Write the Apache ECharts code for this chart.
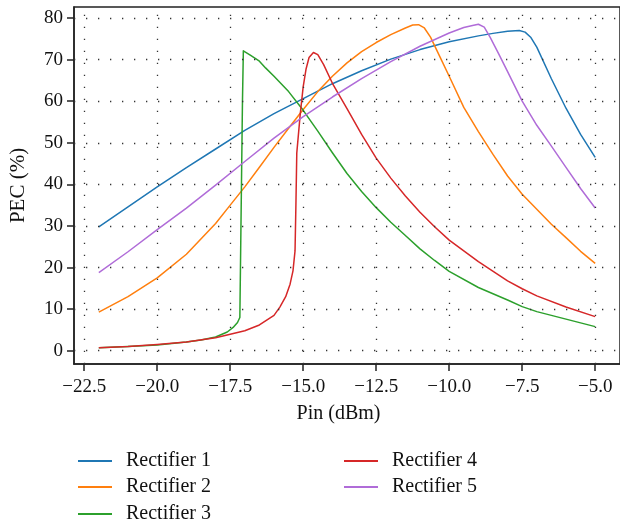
<!DOCTYPE html>
<html><head><meta charset="utf-8">
<script src="https://cdn.jsdelivr.net/npm/echarts@6/dist/echarts.min.js"></script>
<style>html,body{margin:0;padding:0;background:#fff}#c{width:620px;height:524px}</style>
</head><body><div id="c"></div>
<script>
const seriesNames = ['Rectifier 1','Rectifier 2','Rectifier 3','Rectifier 4','Rectifier 5'];
const colors = ['#1f77b4','#ff7f0e','#2ca02c','#d62728','#b06cd8'];
const xTicks = [-22.5,-20,-17.5,-15,-12.5,-10,-7.5,-5];
const yTicks = [0,10,20,30,40,50,60,70,80];

const r1X = [-22,-21,-20,-19,-18,-17,-16,-15,-14,-13,-12,-11,-10,-9,-8.5,-8,-7.6,-7.4,-7.2,-7,-6.5,-6,-5.5,-5];
const r1Y = [29.8,34.6,39.4,44.0,48.5,53.0,57.0,60.6,64.2,67.3,70.1,72.4,74.3,75.7,76.3,76.8,77.0,76.6,75.3,73.0,65.4,58.3,52.0,46.5];

const r2X = [-22,-21,-20,-19,-18,-17.5,-17,-16.5,-16,-15.5,-15,-14.5,-14,-13.5,-13,-12.5,-12,-11.5,-11.25,-11.05,-10.85,-10.64,-10.3,-10,-9.5,-9,-8.5,-8,-7.5,-7,-6.5,-6,-5.5,-5];
const r2Y = [9.3,13.0,17.5,23.2,30.6,35.0,39.4,44.1,48.9,53.5,58.0,62.3,66.0,69.2,71.9,74.1,76.0,77.6,78.3,78.4,77.6,75.4,70.4,66.0,58.5,52.7,47.2,42.0,37.6,34.0,30.4,27.2,23.9,21.0];

const r3X = [-22,-21,-20,-19,-18.5,-18,-17.6,-17.4,-17.25,-17.17,-17.08,-17.05,-16.8,-16.5,-16.29,-16,-15.5,-15,-14.5,-14,-13.5,-13,-12.5,-12,-11.5,-11,-10.5,-10,-9,-8,-7.5,-7,-6,-5];
const r3Y = [0.7,1.0,1.4,2.1,2.6,3.3,4.5,5.6,6.8,8.0,60.0,72.1,71.0,69.6,68.0,66.0,62.3,57.8,52.8,47.6,42.6,38.3,34.4,30.9,27.7,24.5,21.7,19.1,15.2,12.2,10.6,9.4,7.6,5.8];

const r4X = [-22,-21,-20,-19,-18,-17,-16.5,-16,-15.8,-15.6,-15.45,-15.35,-15.28,-15.25,-15.22,-15.1,-15.0,-14.9,-14.8,-14.65,-14.5,-14.3,-14,-13.5,-13,-12.5,-12,-11.5,-11,-10.5,-10,-9,-8,-7.5,-7,-6,-5];
const r4Y = [0.7,1.0,1.5,2.1,3.1,4.8,6.2,8.5,10.5,13.0,16.0,19.2,24.0,35.0,47.5,57.0,63.5,67.8,70.5,71.7,71.2,68.8,64.3,58.2,52.0,46.3,41.5,37.2,33.3,29.8,26.6,21.4,16.8,14.9,13.2,10.5,8.2];

const r5X = [-22,-21,-20,-19,-18,-17,-16,-15,-14,-13,-12,-11,-10,-9.5,-9.2,-9.0,-8.8,-8.6,-8.3,-8,-7.5,-7,-6.5,-6,-5.5,-5];
const r5Y = [18.8,23.8,29.1,34.3,39.8,45.5,51.1,56.3,61.0,65.4,69.5,73.2,76.4,77.7,78.2,78.5,77.8,75.4,71.3,67.1,60.0,54.2,49.2,44.1,39.0,34.3];

const xs = [r1X,r2X,r3X,r4X,r5X];
const ys = [r1Y,r2Y,r3Y,r4Y,r5Y];

const FONT = '"Liberation Serif", "DejaVu Serif", serif';
const fmtX = v => (v < 0 ? '\u2212' : '') + Math.abs(v).toFixed(1);

const gridLineStyle = {color:'#333', width:1.3, type:[1.3,10.7]};
const gridMarks = xTicks.map(v => ({xAxis: v})).concat(yTicks.map(v => ({yAxis: v})));

const series = seriesNames.map((name,i) => ({
  name, type:'line', showSymbol:false, symbol:'none', smooth:false,
  data: xs[i].map((x,k) => [x, ys[i][k]]),
  lineStyle:{color:colors[i], width:1.5, join:'round'},
  itemStyle:{color:colors[i]},
  z: 3,
  animation:false
}));
series.push({
  type:'line', data:[], silent:true, z:1, animation:false,
  markLine:{silent:true, symbol:'none', label:{show:false}, lineStyle:gridLineStyle, data:gridMarks, animation:false}
});

const legendPos = [[78,451],[78,477],[78,504],[344,451],[344,477]];
const legends = seriesNames.map((n,i) => ({
  data:[n], left:legendPos[i][0], top:legendPos[i][1], padding:0,
  itemWidth:34, itemHeight:2, icon:'rect',
  textStyle:{fontFamily:FONT, fontSize:20, lineHeight:20, color:'#111', padding:[0,0,0,9]}
}));

const chart = echarts.init(document.getElementById('c'), null, {renderer:'canvas'});
chart.setOption({
  animation:false,
  backgroundColor:'#fff',
  grid:{left:73, top:7, right:-4, bottom:160, show:true, borderColor:'#222', borderWidth:1.5, backgroundColor:'transparent'},
  xAxis:{
    type:'value', min:-22.85, max:-4.15,
    axisLine:{show:true, onZero:false, lineStyle:{color:'#222', width:1.5}},
    axisTick:{show:true, length:7, lineStyle:{color:'#222', width:1.5}, customValues:xTicks},
    axisLabel:{color:'#111', fontFamily:FONT, fontSize:19, margin:14, customValues:xTicks, formatter:fmtX},
    splitLine:{show:false},
    name:'Pin (dBm)', nameLocation:'middle', nameGap:40,
    nameTextStyle:{color:'#111', fontFamily:FONT, fontSize:20, padding:[0,17,0,0]}
  },
  yAxis:{
    type:'value', min:-3.19, max:82.64,
    axisLine:{show:true, onZero:false, lineStyle:{color:'#222', width:1.5}},
    axisTick:{show:true, length:7, lineStyle:{color:'#222', width:1.5}, customValues:yTicks},
    axisLabel:{color:'#111', fontFamily:FONT, fontSize:19, margin:11, customValues:yTicks},
    splitLine:{show:false},
    name:'PEC (%)', nameLocation:'middle', nameGap:45, nameRotate:90,
    nameTextStyle:{color:'#111', fontFamily:FONT, fontSize:21}
  },
  legend:legends,
  series
});
</script></body></html>
